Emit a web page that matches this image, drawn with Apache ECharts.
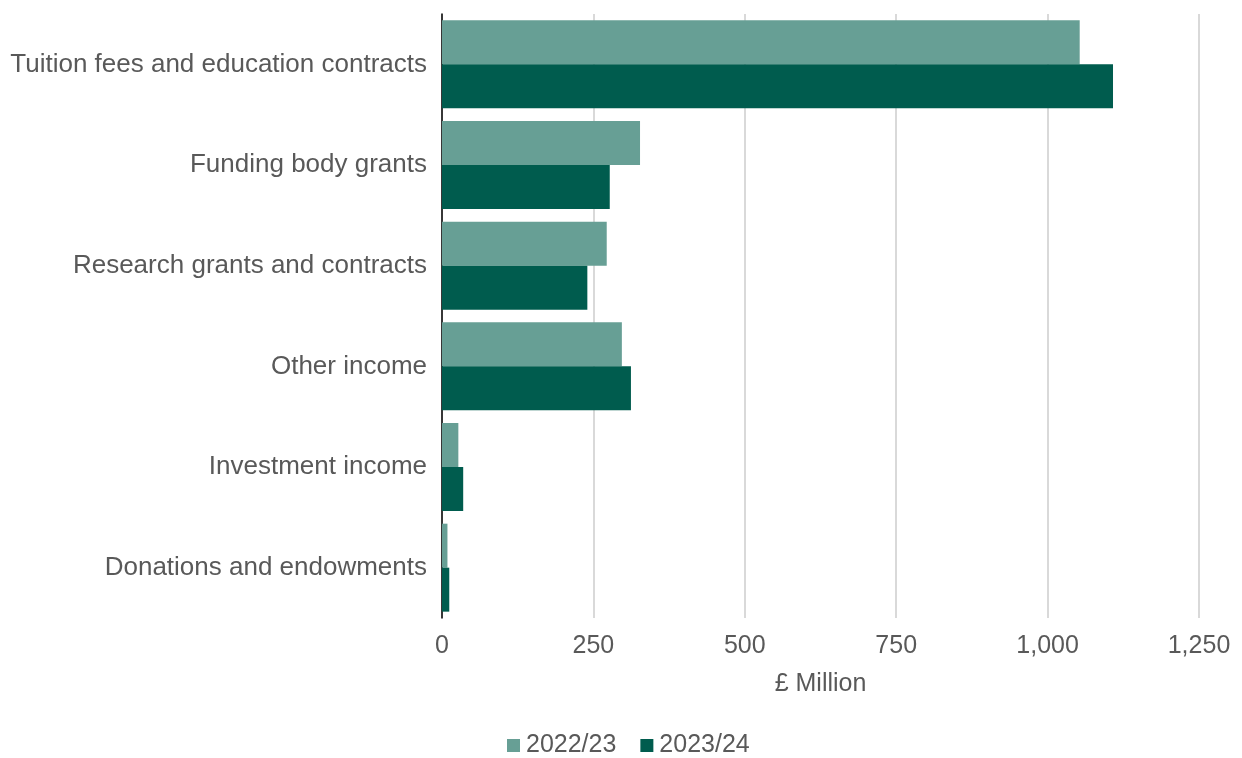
<!DOCTYPE html>
<html>
<head>
<meta charset="utf-8">
<script src="https://cdn.jsdelivr.net/npm/echarts@6/dist/echarts.min.js"></script>
<style>
html,body{margin:0;padding:0;background:#fff;}
#chart{width:1242px;height:758px;}
</style>
</head>
<body>
<div id="chart"></div>
<script>
const categories = [
  "Tuition fees and education contracts",
  "Funding body grants",
  "Research grants and contracts",
  "Other income",
  "Investment income",
  "Donations and endowments"
];
const series2022 = [1053, 327, 272, 297, 27, 9];
const series2023 = [1108, 277, 240, 312, 35, 12];
const xTicks = [0, 250, 500, 750, 1000, 1250];
const seriesNames = ["2022/23", "2023/24"];

const FONT = "Liberation Sans, Arial, sans-serif";
const TXT = "#595959";
const FS = 25;

const chart = echarts.init(document.getElementById('chart'), null, {renderer: 'canvas'});
chart.setOption({
  animation: false,
  textStyle: {fontFamily: FONT},
  grid: {left: 442, right: 43, top: 14, bottom: 140, containLabel: false},
  legend: {
    data: seriesNames,
    top: 733,
    left: 507,
    padding: 0,
    itemWidth: 13,
    itemHeight: 13,
    itemGap: 24,
    icon: 'rect',
    textStyle: {fontSize: FS, color: TXT, fontFamily: FONT, padding: [0, 0, 0, 1]}
  },
  xAxis: {
    type: 'value',
    min: xTicks[0],
    max: xTicks[xTicks.length - 1],
    interval: 250,
    name: '£ Million',
    nameLocation: 'middle',
    nameGap: 54,
    nameTextStyle: {fontSize: FS, color: TXT, fontFamily: FONT},
    axisLine: {show: false},
    axisTick: {show: false},
    axisLabel: {
      fontSize: FS, color: TXT, fontFamily: FONT, margin: 16,
      formatter: v => v.toLocaleString('en-GB')
    },
    splitLine: {show: true, lineStyle: {color: '#d9d9d9', width: 2}}
  },
  yAxis: {
    type: 'category',
    data: categories,
    inverse: true,
    axisLine: {show: true, lineStyle: {color: '#000', width: 1.5}},
    axisTick: {show: false},
    axisLabel: {fontSize: 26, color: TXT, fontFamily: FONT, margin: 15, padding: [5, 0, 0, 0]}
  },
  series: [
    {
      name: seriesNames[0], type: 'bar', data: series2022,
      itemStyle: {color: '#679F95'},
      barGap: '0%', barCategoryGap: '12.6%'
    },
    {
      name: seriesNames[1], type: 'bar', data: series2023,
      itemStyle: {color: '#005C4E'},
      barGap: '0%', barCategoryGap: '12.6%'
    }
  ]
});
</script>
</body>
</html>
